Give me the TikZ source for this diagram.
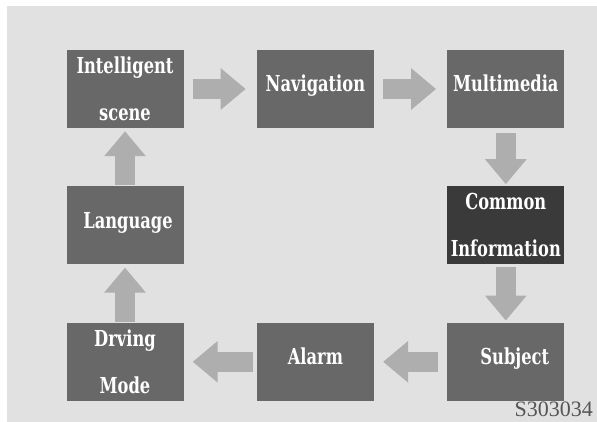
\documentclass[tikz,border=0pt]{standalone}
\usepackage{fontspec}
\usepackage{tikz}
\usetikzlibrary{arrows.meta, positioning}
\newfontfamily\boxfont[FakeStretch=0.74]{DejaVu Serif}
\newfontfamily\codefont{Liberation Serif}
\definecolor{panel}{HTML}{E1E1E1}
\definecolor{boxgray}{HTML}{686868}
\definecolor{boxdark}{HTML}{3A3A3A}
\definecolor{arrowgray}{HTML}{AEAEAE}
\definecolor{codegray}{HTML}{555555}

\begin{document}
\begin{tikzpicture}[
    x=1pt, y=-1pt,
    node distance=58pt and 73pt,
    every node/.style={font=\boxfont\bfseries\fontsize{22}{47}\selectfont},
    menu/.style={
        rectangle,
        fill=boxgray,
        text=white,
        minimum width=117pt,
        minimum height=78pt,
        inner sep=0pt,
        align=center
    },
    oneline/.style={text height=16pt, text depth=10pt},
    flow/.style={line width=20pt, color=arrowgray, -{Triangle[length=25pt, width=40pt]}}
]

\useasboundingbox (0,0) rectangle (597,422);
\fill[panel] (7,6) rectangle (597,422);

\node[menu] (intel) at (125,89) {Intelligent\\scene};
\node[menu, oneline, right=of intel] (nav) {Navigation};
\node[menu, oneline, right=of nav] (multi) {Multimedia};
\node[menu, fill=boxdark, below=of multi] (common) {Common\\Information};
\node[menu, oneline, below=of common] (subject) {\hspace*{18pt}Subject};
\node[menu, oneline, left=of subject] (alarm) {Alarm};
\node[menu, left=of alarm] (drving) {Drving\\Mode};
\node[menu, oneline, below=of intel] (lang) {\hspace*{6pt}Language};

\draw[flow, shorten <=9pt, shorten >=11pt] (intel) -- (nav);
\draw[flow, shorten <=9pt, shorten >=11pt] (nav) -- (multi);
\draw[flow, shorten <=5pt, shorten >=2pt] (multi) -- (common);
\draw[flow, shorten <=2pt, shorten >=2pt] (common) -- (subject);
\draw[flow, shorten <=9pt, shorten >=9pt] (subject) -- (alarm);
\draw[flow, shorten <=4pt, shorten >=9pt] (alarm) -- (drving);
\draw[flow, shorten <=1pt, shorten >=3pt] (drving) -- (lang);
\draw[flow, shorten <=1pt, shorten >=3pt] (lang) -- (intel);

\node[font=\codefont\fontsize{22}{24}\selectfont, text=codegray, anchor=south east, inner sep=0pt] (code) at (593,417) {S303034};

\end{tikzpicture}
\end{document}
